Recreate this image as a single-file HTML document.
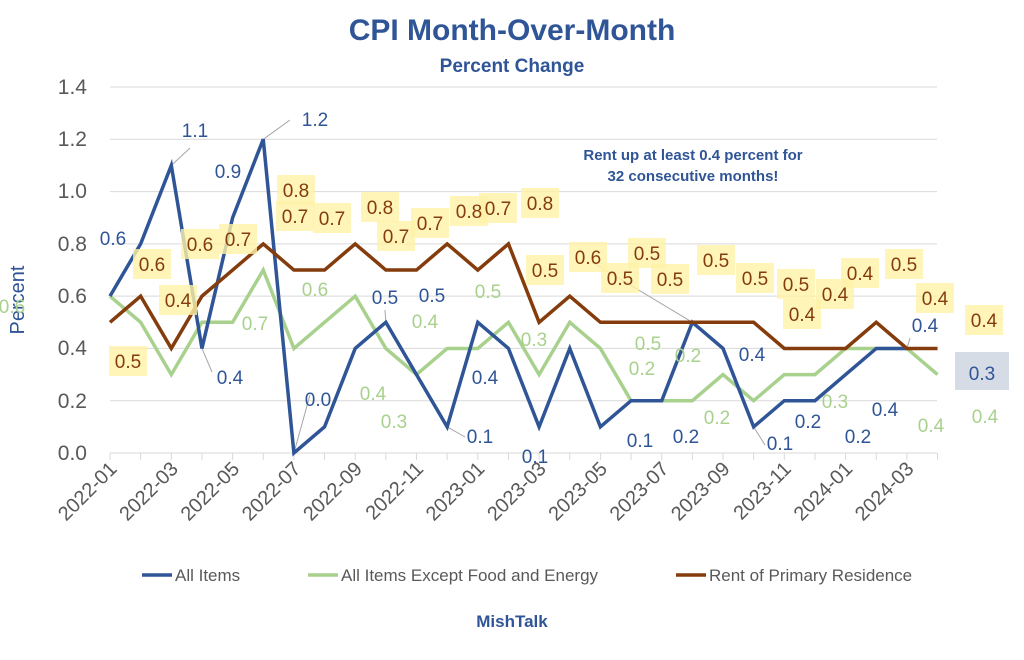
<!DOCTYPE html>
<html><head><meta charset="utf-8"><style>
body{margin:0;background:#fff;}
svg text{font-family:"Liberation Sans",sans-serif;}
</style></head><body>
<svg width="1024" height="655" viewBox="0 0 1024 655" xmlns="http://www.w3.org/2000/svg">
<text x="512" y="40" text-anchor="middle" font-size="30" font-weight="bold" fill="#2f5597">CPI Month-Over-Month</text>
<text x="512" y="72" text-anchor="middle" font-size="19" font-weight="bold" fill="#2f5597">Percent Change</text>
<g stroke="#d9d9d9" stroke-width="1">
<line x1="110" x2="937" y1="87" y2="87"/><line x1="110" x2="937" y1="139.3" y2="139.3"/><line x1="110" x2="937" y1="191.6" y2="191.6"/><line x1="110" x2="937" y1="243.9" y2="243.9"/><line x1="110" x2="937" y1="296.1" y2="296.1"/><line x1="110" x2="937" y1="348.4" y2="348.4"/><line x1="110" x2="937" y1="400.7" y2="400.7"/><line x1="110" x2="937" y1="453" y2="453"/>
</g>
<g font-size="21" fill="#595959" text-anchor="end">
<text x="87" y="94">1.4</text><text x="87" y="146">1.2</text><text x="87" y="198">1.0</text><text x="87" y="251">0.8</text><text x="87" y="303">0.6</text><text x="87" y="355">0.4</text><text x="87" y="408">0.2</text><text x="87" y="460">0.0</text>
</g>
<text transform="translate(24,300) rotate(-90)" text-anchor="middle" font-size="20" fill="#2f5597">Percent</text>
<g id="ticks" stroke="#d9d9d9"></g>
<g font-size="20" fill="#595959" id="xl"></g>
<g id="leaders" fill="none" stroke="#a6a6a6" stroke-width="1"></g>
<g id="series" fill="none" stroke-width="3.5" stroke-linejoin="miter"></g>
<g id="labels" font-size="19"></g>
<text x="693" y="160" text-anchor="middle" font-size="15" font-weight="bold" fill="#2f5597">Rent up at least 0.4 percent for</text>
<text x="693" y="181" text-anchor="middle" font-size="15" font-weight="bold" fill="#2f5597">32 consecutive months!</text>
<g font-size="17" fill="#595959">
<line x1="142" x2="172" y1="575" y2="575" stroke="#2f5597" stroke-width="3.5"/><text x="175" y="581">All Items</text>
<line x1="308" x2="338" y1="575" y2="575" stroke="#a9d18e" stroke-width="3.5"/><text x="341" y="581">All Items Except Food and Energy</text>
<line x1="676" x2="706" y1="575" y2="575" stroke="#843c0c" stroke-width="3.5"/><text x="709" y="581">Rent of Primary Residence</text>
</g>
<text x="512" y="627" text-anchor="middle" font-size="17" font-weight="bold" fill="#2f5597">MishTalk</text>
</svg>
<script>
const X0=110,DX=30.65,Y0=453,S=261.4;
const px=i=>X0+i*DX, py=v=>Y0-v*S;
const ns="http://www.w3.org/2000/svg";
function el(p,t,a,txt){const e=document.createElementNS(ns,t);for(const k in a)e.setAttribute(k,a[k]);if(txt!==undefined)e.textContent=txt;document.getElementById(p).appendChild(e);return e;}
for(let i=0;i<=27;i++){el("ticks","line",{x1:px(i),x2:px(i),y1:453,y2:460});}
const lab=["2022-01","2022-03","2022-05","2022-07","2022-09","2022-11","2023-01","2023-03","2023-05","2023-07","2023-09","2023-11","2024-01","2024-03"];
lab.forEach((l,k)=>{const x=px(k*2)+8;el("xl","text",{x:x,y:470,"text-anchor":"end",transform:`rotate(-45 ${x} 470)`},l);});
const blue=[0.6,0.8,1.1,0.4,0.9,1.2,0.0,0.1,0.4,0.5,0.3,0.1,0.5,0.4,0.1,0.4,0.1,0.2,0.2,0.5,0.4,0.1,0.2,0.2,0.3,0.4,0.4];
const green=[0.6,0.5,0.3,0.5,0.5,0.7,0.4,0.5,0.6,0.4,0.3,0.4,0.4,0.5,0.3,0.5,0.4,0.2,0.2,0.2,0.3,0.2,0.3,0.3,0.4,0.4,0.4,0.3];
const brown=[0.5,0.6,0.4,0.6,0.7,0.8,0.7,0.7,0.8,0.7,0.7,0.8,0.7,0.8,0.5,0.6,0.5,0.5,0.5,0.5,0.5,0.5,0.4,0.4,0.4,0.5,0.4,0.4];
const pts=a=>a.map((v,i)=>px(i)+","+py(v)).join(" ");
// a few leader lines
[[2,1.1,190,148],[5,1.2,290,120],[3,0.4,212,372],[6,0,310,395],[9,0.5,385,310],[11,0.1,465,437],[19,0.5,592,262],[21,0.1,765,445],[26,0.4,910,338]].forEach(([i,v,x,y])=>{el("leaders","polyline",{points:`${px(i)},${py(v)} ${x},${y}`});});
el("series","polyline",{points:pts(green),stroke:"#a9d18e"});
el("series","polyline",{points:pts(blue),stroke:"#2f5597"});
el("series","polyline",{points:pts(brown),stroke:"#843c0c"});
const B=[["0.6",113,245],["1.1",195,137],["0.4",230,384],["0.9",228,178],["1.2",315,126],["0.0",318,406],["0.5",385,304],["0.1",480,443],["0.5",432,302],["0.4",485,384],["0.1",535,463],["0.1",640,447],["0.2",686,443],["0.4",752,361],["0.1",780,450],["0.2",808,428],["0.2",858,443],["0.4",885,416],["0.4",925,332]];
const G=[["0.6",12,313],["0.7",255,330],["0.6",315,296],["0.4",373,400],["0.3",394,428],["0.4",425,328],["0.5",488,298],["0.3",534,346],["0.5",648,350],["0.2",642,375],["0.2",688,362],["0.2",717,424],["0.3",835,408],["0.4",931,432],["0.4",985,423]];
const R=[["0.5",128,368],["0.6",152,271],["0.4",178,307],["0.6",200,251],["0.7",238,246],["0.8",296,197],["0.7",295,223],["0.7",332,225],["0.8",380,214],["0.7",396,243],["0.7",430,230],["0.8",469,218],["0.7",498,215],["0.8",540,210],["0.5",545,277],["0.6",588,264],["0.5",620,285],["0.5",647,260],["0.5",670,286],["0.5",716,267],["0.5",755,285],["0.5",796,291],["0.4",802,321],["0.4",835,301],["0.4",860,280],["0.5",904,271],["0.4",935,305],["0.4",984,327]];
R.forEach(([t,x,y])=>{el("labels","rect",{x:x-19,y:y-22,width:38,height:30,fill:"#fff2a8",opacity:0.8});});
el("labels","rect",{x:955,y:352,width:54,height:38,fill:"#d6dce5"});
R.forEach(([t,x,y])=>el("labels","text",{x:x,y:y,"text-anchor":"middle",fill:"#843c0c"},t));
B.forEach(([t,x,y])=>el("labels","text",{x:x,y:y,"text-anchor":"middle",fill:"#2f5597"},t));
G.forEach(([t,x,y])=>el("labels","text",{x:x,y:y,"text-anchor":"middle",fill:"#a9d18e"},t));
el("labels","text",{x:982,y:380,"text-anchor":"middle",fill:"#2f5597"},"0.3");
</script>
</body></html>
